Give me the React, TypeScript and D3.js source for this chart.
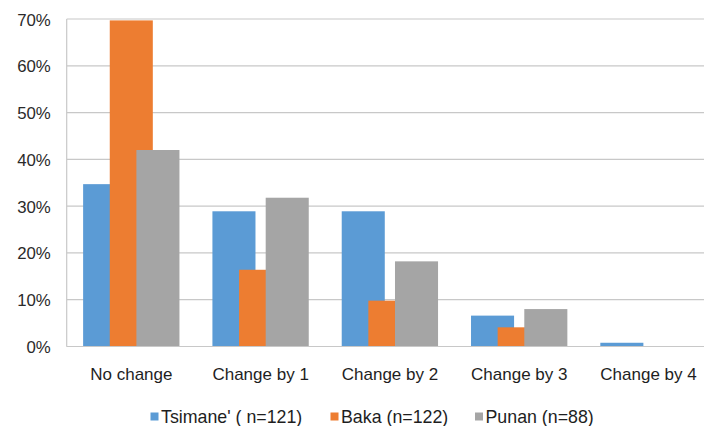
import React from "react";
import * as d3 from "d3";

const categories = ["No change", "Change by 1", "Change by 2", "Change by 3", "Change by 4"];
const seriesNames = ["Tsimane' ( n=121)", "Baka (n=122)", "Punan (n=88)"];
const tsimane = [34.7, 28.9, 28.9, 6.6, 0.8];
const baka = [69.7, 16.4, 9.8, 4.1, 0];
const punan = [42.0, 31.8, 18.2, 8.0, 0];
const yTicks = [0, 10, 20, 30, 40, 50, 60, 70];
const colors = ["#5B9BD5", "#ED7D31", "#A5A5A5"];

const W = 704;
const H = 426;
const left = 66.7;
const top = 19;
const bottom = 346.5;
const right = 713.2;

export default function App() {
  const series = [tsimane, baka, punan];
  const x = d3.scaleBand<string>().domain(categories).range([left, right]).padding(0);
  const y = d3.scaleLinear().domain([0, 70]).range([bottom, top]);
  const bw = x.bandwidth();
  const gapSide = bw * 0.127;
  const barW = bw * 0.333;
  const step = bw * 0.206;
  const fmt = (v: number) => `${v}%`;
  const font = "'Liberation Sans', Arial, sans-serif";
  const legendX = [150.5, 330.5, 475];

  return (
    <div style={{ position: "absolute", left: 0, top: 0, width: W, height: H, background: "#fff" }}>
      <svg width={W} height={H} style={{ display: "block" }} fontFamily={font}>
        <rect width={W} height={H} fill="#fff" />
        {yTicks.map((t) => (
          <g key={t}>
            <line x1={left} x2={W} y1={y(t)} y2={y(t)} stroke="#c8c8c8" strokeWidth={1.2} />
            <text x={50.8} y={y(t) + 6.5} textAnchor="end" fontSize={16.8} fill="#2a2a2a">
              {fmt(t)}
            </text>
          </g>
        ))}
        <line x1={left} x2={left} y1={top} y2={bottom} stroke="#c8c8c8" strokeWidth={1.2} />
        {series.map((vals, si) =>
          vals.map((v, ci) => {
            const x0 = (x(categories[ci]) as number) + gapSide + si * step;
            return (
              <rect
                key={`${si}-${ci}`}
                x={x0}
                y={y(v)}
                width={barW}
                height={bottom - y(v)}
                fill={colors[si]}
              />
            );
          })
        )}
        <line x1={left} x2={W} y1={bottom} y2={bottom} stroke="#c8c8c8" strokeWidth={1.2} />
        {categories.map((c) => (
          <text
            key={c}
            x={(x(c) as number) + bw / 2}
            y={379.5}
            textAnchor="middle"
            fontSize={17}
            fill="#1e1e1e"
          >
            {c}
          </text>
        ))}
        {seriesNames.map((n, i) => (
          <g key={n}>
            <rect x={legendX[i]} y={412.5} width={8} height={8} fill={colors[i]} />
            <text x={legendX[i] + 10.5} y={422.5} fontSize={17.8} fill="#1e1e1e">
              {n}
            </text>
          </g>
        ))}
      </svg>
    </div>
  );
}
